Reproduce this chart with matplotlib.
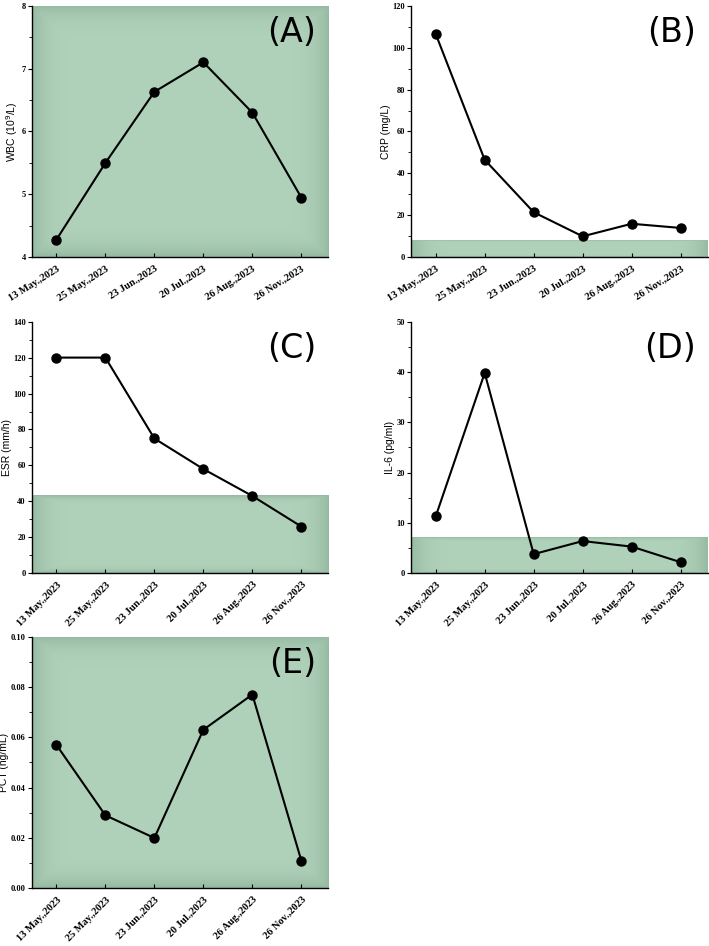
import numpy as np
import matplotlib.pyplot as plt
from matplotlib.ticker import MultipleLocator, AutoMinorLocator

# dates of each test
dates = ['13 May.,2023', '25 May.,2023', '23 Jun.,2023', '20 Jul.,2023', '26 Aug.,2023', '26 Nov.,2023']

wbc = [4.28, 5.50, 6.63, 7.10, 6.30, 4.95]
crp = [106.5, 46.5, 21.5, 10.0, 16.0, 14.0]
esr = [120, 120, 75, 58, 43, 26]
il6 = [11.3, 39.8, 3.8, 6.4, 5.3, 2.2]
pct = [0.057, 0.029, 0.020, 0.063, 0.077, 0.011]

# normal range upper limits (green shading)
crp_ref = 8
esr_ref = 43
il6_ref = 7

GREEN = np.array([176, 209, 186]) / 255.0
EDGE = np.array([150, 186, 162]) / 255.0


def shade(ax, y0, y1, x0, x1):
    # soft green fill, a bit darker near the edges
    nx, ny = 200, 100
    gx = np.linspace(-1, 1, nx)
    gy = np.linspace(-1, 1, ny)
    X, Y = np.meshgrid(gx, gy)
    d = np.maximum(np.abs(X) ** 12, np.abs(Y) ** 12)
    d = np.clip(d, 0, 1)[..., None]
    img = GREEN * (1 - d) + EDGE * d
    ax.imshow(img, extent=(x0, x1, y0, y1), aspect='auto', origin='lower', zorder=0, interpolation='bilinear')


def set_yfont(ax):
    for t in ax.get_yticklabels():
        t.set_fontfamily('Liberation Serif')
        t.set_fontweight('bold')
        t.set_fontsize(6)


def panel(ax, vals, ylabel, ylim, step, label, shade_top=None, rot=45):
    x = np.arange(len(dates))
    x0, x1 = -0.5, 5.55
    if shade_top is None:
        shade_top = ylim[1]
    shade(ax, ylim[0], shade_top, x0, x1)
    ax.plot(x, vals, color='black', lw=1.5, marker='o', ms=6.5, zorder=3)
    ax.set_xlim(x0, x1)
    ax.set_ylim(*ylim)
    ax.set_xticks(x)
    ax.set_xticklabels(dates, rotation=rot, ha='right', rotation_mode='anchor',
                       fontfamily='Liberation Serif', fontweight='bold', fontsize=7.5)
    ax.yaxis.set_major_locator(MultipleLocator(step))
    ax.yaxis.set_minor_locator(AutoMinorLocator(2))
    set_yfont(ax)
    ax.tick_params(axis='x', direction='in', length=3, width=0.8, pad=5)
    ax.tick_params(axis='y', which='major', direction='out', length=3, width=0.8, pad=1.5)
    ax.tick_params(axis='y', which='minor', direction='out', length=2, width=0.6)
    ax.spines['top'].set_visible(False)
    ax.spines['right'].set_visible(False)
    ax.spines['left'].set_linewidth(1.0)
    ax.spines['bottom'].set_linewidth(1.0)
    ax.set_ylabel(ylabel, fontfamily='Liberation Sans', fontsize=7.5, labelpad=1)
    ax.text(0.96, 0.96, label, transform=ax.transAxes, ha='right', va='top',
            fontfamily='DejaVu Sans', fontsize=24, zorder=4)
    ax.set_facecolor('white')


fig = plt.figure(figsize=(7.09, 9.46), dpi=100)
w, h = 0.418, 0.266
axA = fig.add_axes([0.045, 0.728, w, h])
axB = fig.add_axes([0.580, 0.728, w, h])
axC = fig.add_axes([0.045, 0.394, w, h])
axD = fig.add_axes([0.580, 0.394, w, h])
axE = fig.add_axes([0.045, 0.061, w, h])

panel(axA, wbc, 'WBC (10$^9$/L)', (4, 8), 1, '(A)', rot=32)
panel(axB, crp, 'CRP (mg/L)', (0, 120), 20, '(B)', crp_ref, rot=32)
panel(axC, esr, 'ESR (mm/h)', (0, 140), 20, '(C)', esr_ref)
panel(axD, il6, 'IL-6 (pg/ml)', (0, 50), 10, '(D)', il6_ref)
panel(axE, pct, 'PCT (ng/mL)', (0, 0.10), 0.02, '(E)')
axE.yaxis.set_major_formatter(plt.FormatStrFormatter('%.2f'))
set_yfont(axE)

fig.savefig('out.png', dpi=100)
